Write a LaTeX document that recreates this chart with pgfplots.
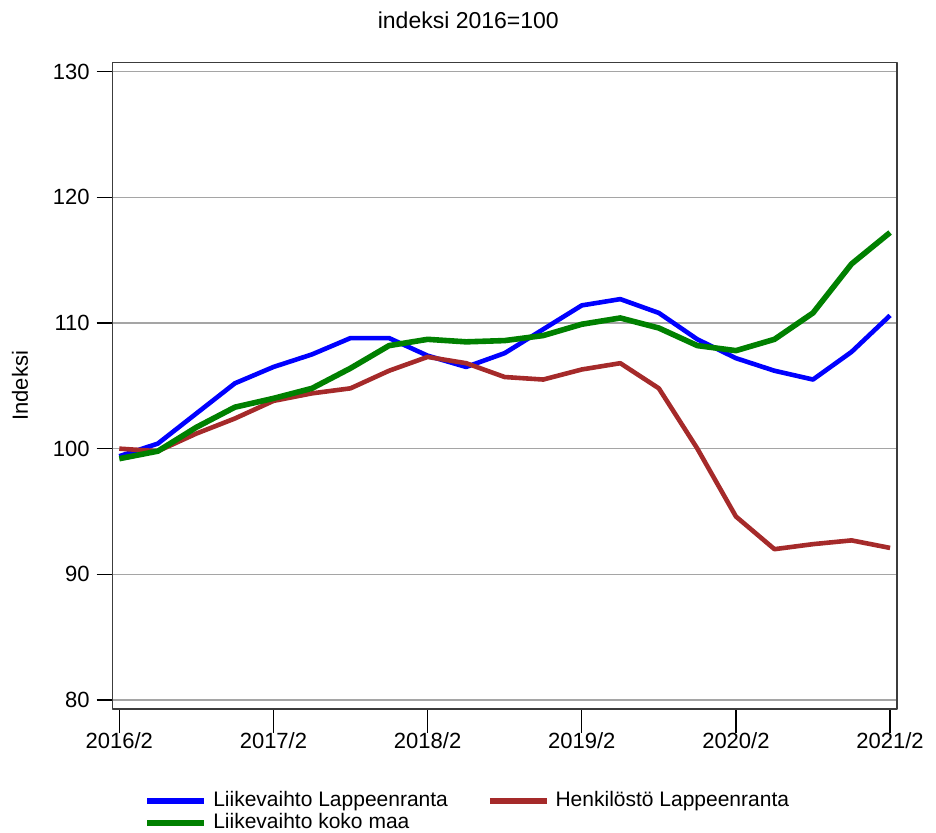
\documentclass[border=0pt]{standalone}
\usepackage{fontspec}
\setmainfont{Liberation Sans}
\usepackage{pgfplots}
\pgfplotsset{compat=1.18}
\definecolor{cblue}{RGB}{0,0,255}
\definecolor{cred}{RGB}{165,42,42}
\definecolor{cgreen}{RGB}{0,128,0}
\definecolor{axgray}{RGB}{60,60,60}
\definecolor{gridgray}{RGB}{165,165,165}

\pgfplotstableread{
x blue red green
0  99.4 100.0  99.2
1  100.4 99.8  99.8
2  102.8 101.2 101.7
3  105.2 102.4 103.3
4  106.5 103.8 104.0
5  107.5 104.4 104.8
6  108.8 104.8 106.4
7  108.8 106.2 108.2
8  107.4 107.3 108.7
9  106.5 106.8 108.5
10 107.6 105.7 108.6
11 109.5 105.5 109.0
12 111.4 106.3 109.9
13 111.9 106.8 110.4
14 110.8 104.8 109.6
15 108.7 100.0 108.2
16 107.2 94.6 107.8
17 106.2 92.0 108.7
18 105.5 92.4 110.8
19 107.7 92.7 114.7
20 110.6 92.1 117.2
}\datatable

\begin{document}
\begin{tikzpicture}
\begin{axis}[
  name=ax,
  scale only axis,
  width=392.15pt, height=323.25pt,
  xmin=-0.171, xmax=20.18,
  ymin=79.28, ymax=130.73,
  xtick={0,4,8,12,16,20},
  xticklabels={2016/2,2017/2,2018/2,2019/2,2020/2,2021/2},
  ytick={80,90,100,110,120,130},
  /pgf/number format/assume math mode=true,
  tick pos=left,
  tick align=outside,
  major tick length=8pt,
  xtick style={/pgfplots/major tick length=12pt},
  tick style={black, line width=0.7pt},
  axis line style={axgray, line width=0.8pt},
  ymajorgrids,
  major grid style={gridgray, line width=0.8pt},
  tick label style={font=\fontsize{11}{13}\selectfont},
  clip=false,
  legend columns=2,
  legend cell align=left,
  legend style={
    at={(rel axis cs:0,0)}, anchor=north west,
    xshift=16pt, yshift=-41pt,
    draw=none, fill=none, inner sep=0pt, outer sep=0pt,
    font=\fontsize{10.5}{12}\selectfont,
    nodes={inner sep=0pt, text height=7.6pt, text depth=2.2pt},
    row sep=1.2pt,
    column sep=3pt,
    /tikz/every even column/.append style={column sep=19.5pt},
  },
  legend image code/.code={\draw[#1, line width=2.8pt] (0pt,0pt) -- (28.5pt,0pt);},
  line join=round,
]
\addplot[cblue, line width=2.3pt] table[x=x, y=blue] {\datatable};
\addlegendentry{Liikevaihto Lappeenranta}
\addplot[cred, line width=2.3pt] table[x=x, y=red] {\datatable};
\addlegendentry{Henkilöstö Lappeenranta}
\addplot[cgreen, line width=2.8pt] table[x=x, y=green] {\datatable};
\addlegendentry{Liikevaihto koko maa}
\node[font=\fontsize{11.5}{13}\selectfont] at (rel axis cs:0.4534,1) [yshift=21pt] {indeksi 2016=100};
\node[rotate=90, font=\fontsize{11}{13}\selectfont] at ([xshift=-46.4pt]rel axis cs:0,0.5) {Indeksi};
\end{axis}
\pgfresetboundingbox
\path ([xshift=-56.35pt,yshift=-61.5pt]ax.south west) rectangle ([xshift=19.5pt,yshift=31.25pt]ax.north east);
\end{tikzpicture}
\end{document}
